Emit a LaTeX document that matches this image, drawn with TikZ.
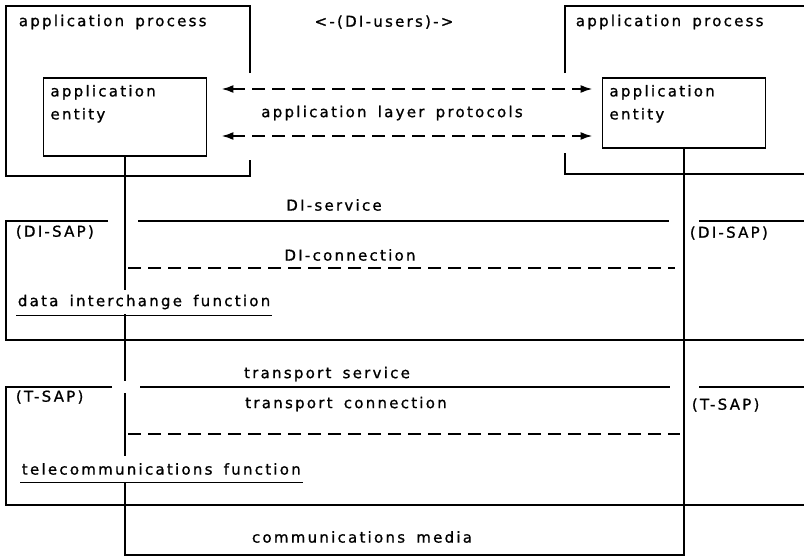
\documentclass[tikz,border=0pt]{standalone}
\usepackage{fontspec}
\setmainfont{DejaVu Sans}[LetterSpace=15,WordSpace=1.6,FakeBold=1]
\usetikzlibrary{arrows.meta}

\begin{document}
\begin{tikzpicture}[x=1pt,y=-1pt,line width=1.8pt,
  txt/.style={inner sep=1pt,font=\fontsize{15}{23}\selectfont},
  entitybox/.style={draw,minimum width=163pt,inner sep=0pt},
  conn/.style={dash pattern=on 13pt off 7pt},
  proto/.style={conn,line width=2pt,{Latex[length=12pt,width=8pt]}-{Latex[length=12pt,width=8pt]}}]
\useasboundingbox (0,0) rectangle (804,557);

% application processes and entities
\draw (250,73) -- (250,6) -- (6,6) -- (6,176) -- (250,176) -- (250,160);
\draw (565,73) -- (565,6) -- (804,6) (565,153) -- (565,174) -- (804,174);
\node[entitybox,minimum height=78pt] (lent) at (125,117) {};
\node[entitybox,minimum height=70pt] (rent) at (684,113) {};
\foreach \n in {lent,rent}
  \node[txt,anchor=north west,align=left] at ([shift={(6,6)}]\n.north west) {application\\entity};
\draw[proto,shorten <=14pt,shorten >=9pt] ([yshift=28pt]lent.east) -- ([yshift=28pt]lent.east -| rent.west);
\draw[proto,shorten <=14pt,shorten >=9pt] ([yshift=-19pt]lent.east) -- ([yshift=-19pt]lent.east -| rent.west);

% layers
\coordinate (lb) at (125,555);
\coordinate (rb) at (rent.south |- lb);
\draw (lent.south) -- (125,381) (125,393) -- (lb) -- (rb) -- (rent.south);
\draw (108,221) -- (6,221) -- (6,340) -- (804,340);
\draw (112,387) -- (6,387) -- (6,505) -- (804,505);
\foreach \a/\b/\y in {138/669/221, 699/804/221, 140/670/387, 699/804/387}
  \draw (\a,\y) -- (\b,\y);
\draw[conn] (128,268) -- (675,268);
\draw[conn] (128,434) -- (680,434);

% labels
\foreach \x/\y/\n/\t in {384/22/users/{<-(DI-users)->}, 392/113/alp/{application layer protocols},
  334/205/dis/{DI-service}, 350/255/dic/{DI-connection}, 327/374/ts/{transport service},
  346/404/tc/{transport connection}, 362/537/cm/{communications media}}
  \node[txt] (\n) at (\x,\y) {\t};
\foreach \x/\y/\n/\t in {17/22/lap/{application process}, 574/22/rap/{application process},
  14/232/ldisap/{(DI-SAP)}, 688/233/rdisap/{(DI-SAP)}, 14/397/ltsap/{(T-SAP)}, 690/405/rtsap/{(T-SAP)}}
  \node[txt,anchor=west] (\n) at (\x,\y) {\t};
\node[txt,anchor=west,fill=white,inner ysep=5pt] (dif) at (16,302) {data interchange function};
\node[txt,anchor=west,fill=white,inner ysep=7pt] (tf) at (20,469) {telecommunications function};
\foreach \n in {dif,tf}
  \draw[line width=1pt] (\n.south west) -- (\n.south east);
\end{tikzpicture}
\end{document}
